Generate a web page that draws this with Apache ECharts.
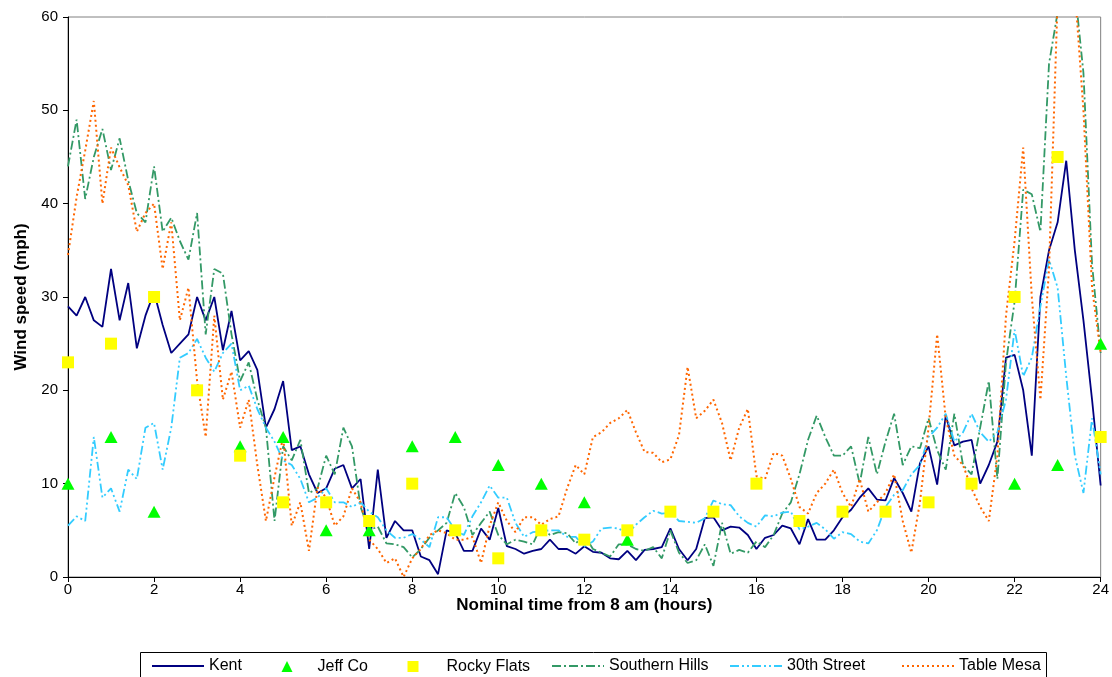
<!DOCTYPE html>
<html>
<head>
<meta charset="utf-8">
<script src="https://cdn.jsdelivr.net/npm/echarts@6/dist/echarts.min.js"></script>
<style>
  html, body { margin: 0; padding: 0; background: #ffffff; }
  #chart { width: 1112px; height: 677px; }
</style>
</head>
<body>
<div id="chart"></div>
<script>
// Continuous stations: one reading every STEP hours, starting at hour 0.
const STEP = 0.2;

const kent = [
  29, 28, 30, 27.5, 26.8,
  33, 27.5, 31.5, 24.5, 28,
  30.5, 27, 24, 25, 26,
  30, 27.5, 30, 24.3, 28.5,
  23.2, 24.2, 22.2, 16, 18,
  21, 13.6, 14, 11, 9,
  9.5, 11.6, 12, 9.5, 10.5,
  3, 11.5, 4.2, 6, 5,
  5, 2.2, 1.8, 0.3, 5,
  4.7, 2.8, 2.8, 5.2, 4,
  7.4, 3.3, 3, 2.5, 2.8,
  3, 4, 3, 3, 2.5,
  3.3, 2.7, 2.6, 2, 1.9,
  2.8, 1.8, 2.9, 3, 3.2,
  5.2, 3, 1.8, 3, 6.3,
  6.4, 5, 5.4, 5.3, 4.5,
  3, 4.2, 4.5, 5.5, 5.2,
  3.5, 6.2, 4, 4, 5,
  6.4, 7.2, 8.5, 9.5, 8.3,
  8.2, 10.6, 9, 7, 12.2,
  14, 9.9, 17.3, 14.1, 14.5,
  14.7, 10, 12, 14.5, 23.5,
  23.8, 20, 13, 30, 35,
  38, 44.6, 35, 27.5, 19,
  9.8
];

const southernHills = [
  44, 49, 40.5, 45, 48,
  43.6, 47, 42.5, 39, 38,
  44, 37, 38.5, 36, 34,
  39, 26, 33, 32.5, 26,
  21, 23, 19, 16, 6,
  14, 12.5, 14.7, 9, 9.5,
  13, 11, 16, 14, 7.5,
  5, 5.4, 3.6, 3.5, 3.2,
  2.1, 3, 4.2, 5, 5.8,
  9, 7.5, 4.5, 5.8, 7,
  4.5, 3.5, 4, 3.8, 3.5,
  5.5, 4.5, 4.8, 4.7, 3.6,
  4.5, 3, 2.6, 2.2, 3.5,
  3.5, 3, 2.8, 3.2, 2,
  5, 2.6, 1.5, 1.8, 3.5,
  1.2, 5.8, 2.5, 2.9, 2.6,
  3.8, 3.2, 4.5, 6.8, 8,
  11, 14.7, 17.3, 15, 13,
  13, 14, 10, 15, 11,
  14.5, 17.5, 12, 14, 13.8,
  17, 13.6, 11.5, 17.5, 12,
  11, 16, 21, 10.5, 23,
  29.5, 41.5, 41, 37, 55,
  60.5, 64, 63, 54, 33.5,
  24
];

const thirtiethStreet = [
  5.5, 6.5, 6, 15, 8.5,
  9.5, 7, 11.5, 10.5, 16,
  16.5, 11.5, 16, 23.5, 24,
  25.5, 23.5, 22, 24, 25,
  20, 20.5, 18, 16, 14.5,
  12.5, 12, 10.5, 8, 8.5,
  9.5, 8, 8, 7.5, 8,
  7, 6.4, 5, 4.2, 4.2,
  4.6, 4, 3.2, 6.4, 6.4,
  5, 4.5, 6.5, 8, 9.8,
  8.5, 8.5, 5.8, 4.3, 4.8,
  4.9, 5, 5, 4.3, 4.3,
  3.3, 3.8, 5.2, 5.3, 5.2,
  4.6, 5.6, 6.4, 7.1, 6.8,
  6.9, 6, 5.9, 5.8, 6.3,
  8.2, 7.8, 7.7, 6.5, 5.8,
  5.4, 6.6, 6.5, 6.9, 7,
  5.1, 5.4, 5.8, 5.1, 4.1,
  4.8, 4.6, 3.8, 3.6, 5,
  7.5, 8.8, 9.3, 11, 12,
  15, 16, 17.5, 14.5, 15.5,
  17.5, 15.5, 14.5, 15.5, 19,
  26.5, 21.5, 23.5, 29, 34,
  31, 21.5, 13, 9, 17,
  11
];

const tableMesa = [
  34.5, 40.7, 45.7, 51, 40,
  46, 43.9, 42, 37, 39,
  40, 33, 38, 27.5, 31,
  21, 15, 28, 19, 22,
  16, 19, 12, 6, 10.7,
  15, 5.5, 8, 2.8, 9.6,
  8.5, 5.5, 6.5, 9.5, 8,
  4, 3, 1.5, 2, 0,
  2, 3, 4.5, 5, 4.7,
  4, 4, 4.3, 1.5, 5.5,
  8, 6, 4.8, 6.4, 6.4,
  5.6, 6.2, 6.5, 9.5, 12,
  11, 15, 15.5, 16.5, 17,
  17.9, 15.5, 13.4, 13.3, 12.3,
  12.6, 15.2, 22.5, 17, 17.8,
  19, 16.5, 12.5, 16, 18,
  10.8, 10.5, 13.3, 13, 10.5,
  7.5, 6.8, 9, 10, 11.5,
  9, 7.5, 10.5, 7, 8,
  9, 11, 6, 2.6, 8,
  16, 26, 17, 13, 12,
  9.5, 7.5, 6, 13, 28,
  36, 46, 30, 19, 33,
  62, 64, 63, 50, 31,
  24
];

// Hourly spot readings
const jeffCoHours = [0, 1, 2, 4, 5, 6, 7, 8, 9, 10, 11, 12, 13, 22, 23, 24];
const jeffCo      = [10, 15, 7, 14, 15, 5, 5, 14, 15, 12, 10, 8, 4, 10, 12, 25];

const rockyFlatsHours = [0, 1, 2, 3, 4, 5, 6, 7, 8, 9, 10, 11, 12, 13, 14, 15, 16, 17, 18, 19, 20, 21, 22, 23, 24];
const rockyFlats      = [23, 25, 30, 20, 13, 8, 8, 6, 10, 5, 2, 5, 4, 5, 7, 7, 10, 6, 7, 7, 8, 10, 30, 45, 15];

const xTicks = { min: 0, max: 24, interval: 2 };
const yTicks = { min: 0, max: 60, interval: 10 };

const FONT = '"Liberation Sans", Arial, sans-serif';

function timed(values) {
  return values.map((v, i) => [+(i * STEP).toFixed(2), v]);
}
function paired(hours, values) {
  return hours.map((h, i) => [h, values[i]]);
}

const chart = echarts.init(document.getElementById('chart'), null, { renderer: 'canvas' });

// One legend block per entry so each sits in its own slot of the boxed key.
// Line entries show only their stroke; marker entries show a small symbol.
const legendSlots = [
  { name: 'Kent',           left: 151,   kind: 'line' },
  { name: 'Jeff Co',        left: 281.5, kind: 'mark', textGap: 20 },
  { name: 'Rocky Flats',    left: 407.5, kind: 'mark', textGap: 23 },
  { name: 'Southern Hills', left: 551,   kind: 'line' },
  { name: '30th Street',    left: 729,   kind: 'line' },
  { name: 'Table Mesa',     left: 901,   kind: 'line' }
];

function legendBlock(s) {
  const isLine = s.kind === 'line';
  const block = {
    data: [s.name],
    left: s.left, top: isLine ? 658 : 658.5,
    orient: 'horizontal',
    padding: 0, itemGap: 0,
    itemWidth: isLine ? 52 : 11,
    itemHeight: isLine ? 12 : 11,
    selectedMode: false,
    textStyle: {
      fontFamily: FONT, fontSize: 16, color: '#000',
      padding: isLine ? 0 : [0, 0, 0, s.textGap]
    }
  };
  if (isLine) block.itemStyle = { opacity: 0 };
  return block;
}

const option = {
  backgroundColor: '#ffffff',
  animation: false,
  grid: {
    left: 68, right: 8, top: 17, bottom: 100,
    show: true, borderColor: '#808080', borderWidth: 1, backgroundColor: 'transparent'
  },
  xAxis: {
    type: 'value',
    min: xTicks.min, max: xTicks.max, interval: xTicks.interval,
    name: 'Nominal time from 8 am (hours)',
    nameLocation: 'middle', nameGap: 20, nameMoveOverlap: false,
    nameTextStyle: { fontFamily: FONT, fontSize: 17, fontWeight: 'bold', color: '#000' },
    axisLine: { lineStyle: { color: '#000', width: 1 } },
    axisTick: { length: 5, lineStyle: { color: '#000' } },
    axisLabel: { fontFamily: FONT, fontSize: 15, color: '#000', margin: 5 },
    splitLine: { show: false }
  },
  yAxis: {
    type: 'value',
    min: yTicks.min, max: yTicks.max, interval: yTicks.interval,
    name: 'Wind speed (mph)',
    nameLocation: 'middle', nameRotate: 90, nameGap: 38, nameMoveOverlap: false,
    nameTextStyle: { fontFamily: FONT, fontSize: 17, fontWeight: 'bold', color: '#000' },
    axisLine: { show: true, lineStyle: { color: '#000', width: 1 } },
    axisTick: { show: true, length: 5, lineStyle: { color: '#000' } },
    axisLabel: { fontFamily: FONT, fontSize: 15, color: '#000', margin: 10 },
    splitLine: { show: false }
  },
  legend: legendSlots.map(legendBlock),
  graphic: [{
    type: 'rect',
    shape: { x: 140.5, y: 652.5, width: 906, height: 40 },
    style: { fill: 'none', stroke: '#000', lineWidth: 1 },
    silent: true, z: 0
  }],
  series: [
    {
      name: 'Kent', type: 'line', data: timed(kent),
      showSymbol: false, symbol: 'none',
      lineStyle: { color: '#000080', width: 1.8 },
      itemStyle: { color: '#000080' }, z: 2
    },
    {
      name: 'Jeff Co', type: 'scatter', data: paired(jeffCoHours, jeffCo),
      symbol: 'triangle', symbolSize: [13, 12],
      itemStyle: { color: '#00ff00', opacity: 1 }, z: 5
    },
    {
      name: 'Rocky Flats', type: 'scatter', data: paired(rockyFlatsHours, rockyFlats),
      symbol: 'rect', symbolSize: 12,
      itemStyle: { color: '#ffff00', opacity: 1 }, z: 5
    },
    {
      name: 'Southern Hills', type: 'line', data: timed(southernHills),
      showSymbol: false, symbol: 'none',
      lineStyle: { color: '#339966', width: 1.8, type: [9, 3, 2, 3] },
      itemStyle: { color: '#339966' }, z: 2
    },
    {
      name: '30th Street', type: 'line', data: timed(thirtiethStreet),
      showSymbol: false, symbol: 'none',
      lineStyle: { color: '#33ccff', width: 1.8, type: [9, 3, 2, 3, 2, 3] },
      itemStyle: { color: '#33ccff' }, z: 2
    },
    {
      name: 'Table Mesa', type: 'line', data: timed(tableMesa),
      showSymbol: false, symbol: 'none',
      lineStyle: { color: '#ff6600', width: 2, type: [2, 3] },
      itemStyle: { color: '#ff6600' }, z: 2
    }
  ]
};

chart.setOption(option);
</script>
</body>
</html>
